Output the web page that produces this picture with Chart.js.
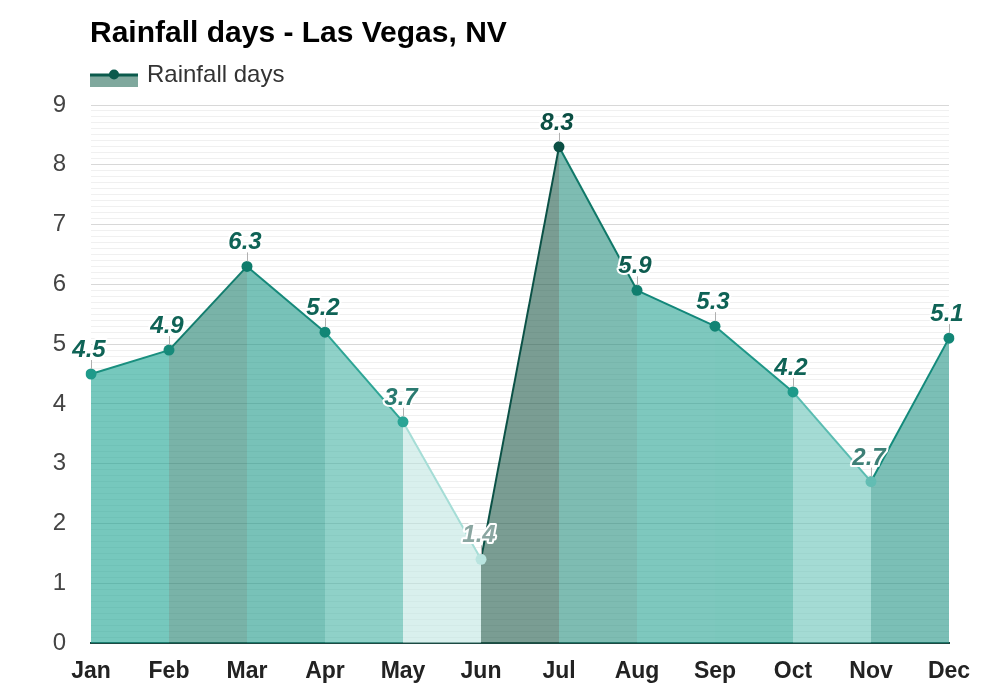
<!DOCTYPE html>
<html>
<head>
<meta charset="utf-8">
<title>Rainfall days - Las Vegas, NV</title>
<script src="https://cdn.jsdelivr.net/npm/chart.js@4.4.1/dist/chart.umd.min.js"></script>
<style>
    html, body { margin: 0; padding: 0; background: #fff; }
    #wrap { width: 1000px; height: 700px; }
</style>
</head>
<body>
<div id="wrap"><canvas id="rainChart" width="1000" height="700"></canvas></div>
<script>
// Datos
const months = ['Jan', 'Feb', 'Mar', 'Apr', 'May', 'Jun', 'Jul', 'Aug', 'Sep', 'Oct', 'Nov', 'Dec'];
const rainDays = [4.5, 4.9, 6.3, 5.2, 3.7, 1.4, 8.3, 5.9, 5.3, 4.2, 2.7, 5.1];
const yTicks = [0, 1, 2, 3, 4, 5, 6, 7, 8, 9];

// Colores por tramo y por punto
const fillColors = [
    'rgba(27,163,145,0.6)', 'rgba(32,128,110,0.6)', 'rgba(30,153,137,0.6)', 'rgba(68,178,163,0.6)',
    'rgba(192,230,225,0.6)', 'rgba(33,92,75,0.6)', 'rgba(40,143,127,0.6)', 'rgba(40,163,147,0.6)',
    'rgba(37,163,145,0.6)', 'rgba(103,195,183,0.6)', 'rgba(35,148,133,0.6)'
];
const lineColors = ['#1a8f7f', '#137d6e', '#16897a', '#2ea595', '#a5ddd6', '#0b5146',
    '#107868', '#13877a', '#1f9788', '#5abcb1', '#138a7b'];
const pointColors = ['#1f9a8a', '#168a7a', '#0e7b6b', '#128676', '#29a495', '#b9e4df',
    '#0b4f44', '#0f7e6e', '#118474', '#1e9a8a', '#62bdb3', '#128676'];
const labelColors = ['#0f6356', '#0f6356', '#0f6356', '#0f6356', '#2a7a70', '#8aa6a1',
    '#0b4f44', '#0f5c50', '#0f6356', '#0f6356', '#3e7f76', '#0f6356'];

const FONT = '"Liberation Sans", Arial, sans-serif';

// Titulo y leyenda dibujados a mano
const headerPlugin = {
    id: 'header',
    afterDraw(chart) {
        const ctx = chart.ctx;
        ctx.save();
        ctx.fillStyle = '#000';
        ctx.font = 'bold 30px ' + FONT;
        ctx.textBaseline = 'alphabetic';
        ctx.textAlign = 'left';
        ctx.fillText('Rainfall days - Las Vegas, NV', 90, 42);

        // caja de leyenda
        ctx.fillStyle = '#7fa89d';
        ctx.fillRect(90, 76, 48, 11);
        ctx.strokeStyle = '#0b5a4c';
        ctx.lineWidth = 3;
        ctx.beginPath();
        ctx.moveTo(90, 75);
        ctx.lineTo(138, 75);
        ctx.stroke();
        ctx.fillStyle = '#0b5a4c';
        ctx.beginPath();
        ctx.arc(114, 74.5, 5, 0, Math.PI * 2);
        ctx.fill();

        ctx.fillStyle = '#333';
        ctx.font = '24px ' + FONT;
        ctx.textBaseline = 'middle';
        ctx.fillText('Rainfall days', 147, 75);
        ctx.restore();
    }
};

// Etiquetas de valor sobre cada punto
const valueLabels = {
    id: 'valueLabels',
    afterDatasetsDraw(chart) {
        const ctx = chart.ctx;
        const meta = chart.getDatasetMeta(0);
        ctx.save();
        meta.data.forEach(pt => {
            ctx.strokeStyle = '#b0b0b0';
            ctx.lineWidth = 1;
            ctx.beginPath();
            ctx.moveTo(pt.x + 0.5, pt.y - 5);
            ctx.lineTo(pt.x + 0.5, pt.y - 14);
            ctx.stroke();
        });
        meta.data.forEach((pt, i) => {
            const txt = rainDays[i].toFixed(1);
            ctx.font = 'italic bold 24px ' + FONT;
            ctx.textAlign = 'center';
            ctx.textBaseline = 'alphabetic';
            ctx.lineJoin = 'round';
            ctx.lineWidth = 4;
            ctx.strokeStyle = '#fff';
            ctx.strokeText(txt, pt.x - 2, pt.y - 17);
            ctx.fillStyle = labelColors[i];
            ctx.fillText(txt, pt.x - 2, pt.y - 17);
        });
        ctx.restore();
    }
};

const ctx = document.getElementById('rainChart').getContext('2d');
new Chart(ctx, {
    type: 'line',
    data: {
        labels: months,
        datasets: [{
            label: 'Rainfall days',
            data: rainDays,
            fill: 'origin',
            borderWidth: 2,
            tension: 0,
            pointRadius: 5.5,
            pointHoverRadius: 5.5,
            pointBorderWidth: 0,
            pointBackgroundColor: pointColors,
            pointBorderColor: pointColors,
            segment: {
                borderColor: c => lineColors[c.p0DataIndex],
                backgroundColor: c => fillColors[c.p0DataIndex]
            }
        }]
    },
    options: {
        responsive: false,
        animation: false,
        layout: { padding: { left: 0, right: 51, top: 105, bottom: 0 } },
        plugins: {
            legend: { display: false },
            title: { display: false },
            tooltip: { enabled: false }
        },
        scales: {
            x: {
                offset: false,
                grid: { display: false, drawTicks: false },
                border: { display: true, color: '#1d4a43', width: 2 },
                ticks: {
                    color: '#222',
                    font: { family: FONT, size: 23, weight: 'bold' },
                    padding: 15,
                    maxRotation: 0,
                    autoSkip: false
                },
                afterFit(scale) { scale.height = 57; }
            },
            y: {
                min: yTicks[0],
                max: yTicks[yTicks.length - 1],
                grid: {
                    drawTicks: false,
                    color: c => (Math.round(c.tick.value * 10) % 10 === 0) ? '#d8d8d8' : '#f0f0f0',
                    lineWidth: 1
                },
                border: { display: false },
                ticks: {
                    stepSize: 0.1,
                    maxTicksLimit: 200,
                    autoSkip: false,
                    padding: 25,
                    color: '#444',
                    font: { family: FONT, size: 24 },
                    callback: v => {
                        const r = Math.round(v * 10);
                        return (r % 10 === 0 && yTicks.includes(r / 10)) ? String(r / 10) : '';
                    }
                },
                afterFit(scale) { scale.width = 91; }
            }
        }
    },
    plugins: [headerPlugin, valueLabels]
});
</script>
</body>
</html>
